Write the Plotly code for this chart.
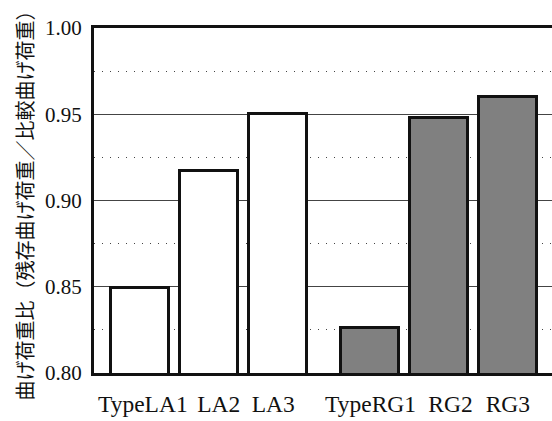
import plotly.graph_objects as go

groups = [["TypeLA1", "LA2", "LA3"], ["TypeRG1", "RG2", "RG3"]]
values = [[0.849, 0.917, 0.950], [0.826, 0.948, 0.960]]
fill_colors = ["#ffffff", "#808080"]
y_title = "曲げ荷重比（残存曲げ荷重／比較曲げ荷重）"
y_ticks = [0.80, 0.85, 0.90, 0.95, 1.00]

# horizontal nudges of the category labels (axis units), as in the source figure
label_nudge = [0.04, 0.14, -0.07, 0.01, 0.17, 0.0]

group_gap = 0.33
fig = go.Figure()
bar_pos, ticktext = [], []
for g, (labels, vals) in enumerate(zip(groups, values)):
    xs = [g * (len(labels) + group_gap) + i for i in range(len(labels))]
    bar_pos += xs
    ticktext += labels
    fig.add_trace(go.Bar(
        x=xs, y=vals, base=0, width=0.84,
        marker=dict(color=fill_colors[g], line=dict(color="#111111", width=3)),
        showlegend=False,
    ))
tickvals = [p + d for p, d in zip(bar_pos, label_nudge)]

serif = "Liberation Serif"
fig.update_layout(
    width=552, height=421,
    margin=dict(l=94, r=0, t=28, b=48),
    paper_bgcolor="white", plot_bgcolor="white",
    font=dict(family=serif, size=22, color="#111111"),
    bargap=0,
)
fig.update_xaxes(
    range=[-0.667, 5.97],
    tickvals=tickvals, ticktext=ticktext, tickangle=0,
    showline=True, linecolor="#111111", linewidth=3, mirror=True,
    showgrid=False, zeroline=False, ticks="",
    ticklabelstandoff=8, automargin=False,
    tickfont=dict(family=serif, size=23.5),
)
fig.update_yaxes(
    range=[0.80, 1.00],
    tickvals=y_ticks, ticktext=[f"{v:.2f}" for v in y_ticks],
    showline=True, linecolor="#111111", linewidth=3, mirror=False,
    showgrid=True, gridcolor="#444444", gridwidth=1,
    zeroline=False, ticks="",
    ticklabelstandoff=5, automargin=False,
    tickfont=dict(family=serif, size=21),
    minor=dict(dtick=0.025, tick0=0.8, showgrid=True, gridcolor="#444444",
               gridwidth=1, griddash="1px,7px"),
    title=dict(text=y_title, standoff=7,
               font=dict(family="Noto Sans CJK JP", size=20, color="#111111")),
)
fig.write_html("out.html", config={"displayModeBar": False},
               post_script="document.body.style.margin='0';")
